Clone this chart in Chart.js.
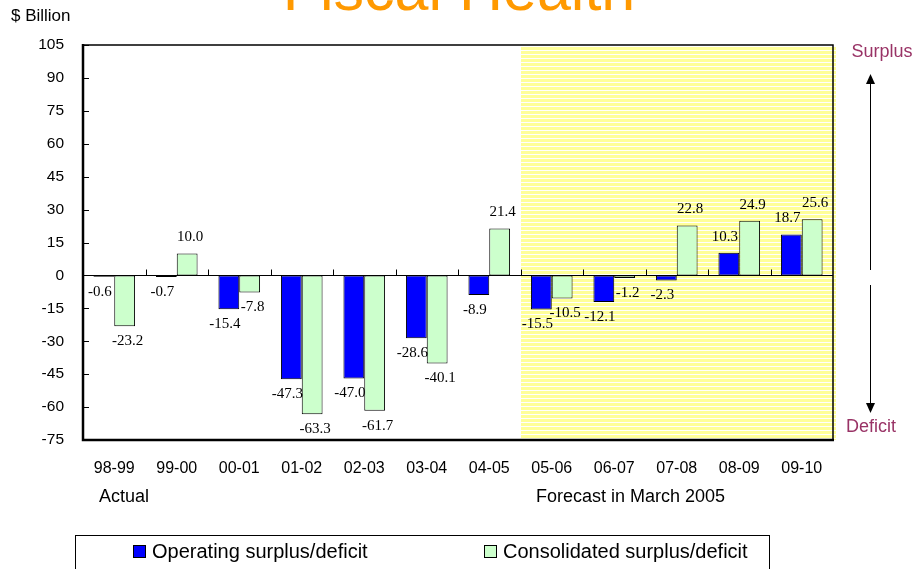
<!DOCTYPE html>
<html>
<head>
<meta charset="utf-8">
<script src="https://cdn.jsdelivr.net/npm/chart.js@4.4.1/dist/chart.umd.min.js"></script>
<style>
  body { margin: 0; background: #fff; }
  #wrap { width: 916px; height: 569px; position: relative; }
</style>
</head>
<body>
<div id="wrap"><canvas id="fiscalChart"></canvas></div>
<script>
// Fiscal years and periods
const years = ['98-99', '99-00', '00-01', '01-02', '02-03', '03-04', '04-05', '05-06', '06-07', '07-08', '08-09', '09-10'];
const firstForecast = 7; // index of 05-06

// $ Billion
const operating = [-0.6, -0.7, -15.4, -47.3, -47.0, -28.6, -8.9, -15.5, -12.1, -2.3, 10.3, 18.7];
const consolidated = [-23.2, 10.0, -7.8, -63.3, -61.7, -40.1, 21.4, -10.5, -1.2, 22.8, 24.9, 25.6];

const yMin = -75;
const yMax = 105;
const yStep = 15;

const sans = "'Liberation Sans', Arial, sans-serif";
const serif = "'Liberation Serif', 'Times New Roman', serif";

// Yellow striped forecast area
const forecastBg = {
  id: 'forecastBg',
  beforeDatasetsDraw(chart) {
    const { ctx, chartArea, scales: { x } } = chart;
    const left = Math.round((x.getPixelForValue(firstForecast - 1) + x.getPixelForValue(firstForecast)) / 2);
    const right = chartArea.right + 3;
    ctx.save();
    ctx.fillStyle = '#ffff99';
    ctx.fillRect(left, chartArea.top + 2, right - left, chartArea.bottom - chartArea.top - 2);
    ctx.fillStyle = '#ffffff';
    for (let y = chartArea.top + 5; y < chartArea.bottom; y += 4) {
      ctx.fillRect(left, y, right - left, 1);
    }
    ctx.restore();
  }
};

// Frame, zero line, ticks and value labels
const frameAndLabels = {
  id: 'frameAndLabels',
  afterDatasetsDraw(chart) {
    const { ctx, chartArea, scales: { x, y } } = chart;
    const { left, right, top, bottom } = chartArea;
    ctx.save();
    ctx.strokeStyle = '#000';

    // zero line with upward ticks between categories
    const y0 = Math.round(y.getPixelForValue(0)) + 0.5;
    ctx.lineWidth = 1;
    ctx.beginPath();
    ctx.moveTo(left, y0);
    ctx.lineTo(right, y0);
    for (let i = 1; i < years.length; i++) {
      const bx = Math.round((x.getPixelForValue(i - 1) + x.getPixelForValue(i)) / 2) + 0.5;
      ctx.moveTo(bx, y0);
      ctx.lineTo(bx, y0 - 6);
    }
    ctx.stroke();

    // inward ticks on left axis
    ctx.beginPath();
    for (let v = yMin; v <= yMax; v += yStep) {
      const ty = Math.round(y.getPixelForValue(v)) + 0.5;
      ctx.moveTo(left, ty);
      ctx.lineTo(left + 6, ty);
    }
    ctx.stroke();

    // top + right border
    ctx.lineWidth = 1.5;
    ctx.strokeRect(left, top, right - left, bottom - top);
    // left + bottom axis, thicker
    ctx.lineWidth = 2.5;
    ctx.beginPath();
    ctx.moveTo(left, top - 1);
    ctx.lineTo(left, bottom);
    ctx.lineTo(right + 1, bottom);
    ctx.stroke();

    // value labels
    ctx.font = '15px ' + serif;
    ctx.fillStyle = '#000';
    ctx.textAlign = 'center';
    ctx.textBaseline = 'middle';
    const shift = [-4, 3];
    chart.data.datasets.forEach((ds, di) => {
      chart.getDatasetMeta(di).data.forEach((bar, i) => {
        const v = ds.data[i];
        const ly = v < 0 ? bar.y + 15 : bar.y - 16;
        ctx.fillText(v.toFixed(1), bar.x + shift[di], ly);
      });
    });
    ctx.restore();
  }
};

// Title, unit, period notes, arrows and legend box
const decorations = {
  id: 'decorations',
  afterDraw(chart) {
    const { ctx } = chart;
    ctx.save();

    // title (cut off at top)
    ctx.fillStyle = '#ff9900';
    ctx.font = '61px ' + sans;
    ctx.textAlign = 'center';
    ctx.textBaseline = 'alphabetic';
    ctx.fillText('Fiscal Health', 459, 10);

    ctx.fillStyle = '#000';
    ctx.font = '17px ' + sans;
    ctx.textAlign = 'left';
    ctx.textBaseline = 'middle';
    ctx.fillText('$ Billion', 11, 16);

    ctx.font = '18px ' + sans;
    ctx.fillText('Actual', 99, 497);
    ctx.fillText('Forecast in March 2005', 536, 497);

    // surplus / deficit arrows
    ctx.fillStyle = '#993366';
    ctx.textAlign = 'center';
    ctx.fillText('Surplus', 882, 52);
    ctx.fillText('Deficit', 871, 427);

    ctx.strokeStyle = '#000';
    ctx.fillStyle = '#000';
    ctx.lineWidth = 1;
    ctx.beginPath();
    ctx.moveTo(870.5, 82);
    ctx.lineTo(870.5, 270);
    ctx.moveTo(870.5, 285);
    ctx.lineTo(870.5, 405);
    ctx.stroke();
    ctx.beginPath();
    ctx.moveTo(870.5, 74);
    ctx.lineTo(866, 84);
    ctx.lineTo(875, 84);
    ctx.closePath();
    ctx.fill();
    ctx.beginPath();
    ctx.moveTo(870.5, 413);
    ctx.lineTo(866, 403);
    ctx.lineTo(875, 403);
    ctx.closePath();
    ctx.fill();

    // legend box
    ctx.lineWidth = 1;
    ctx.strokeRect(75.5, 535.5, 694, 60);
    const items = [[133, 0], [484, 1]];
    ctx.font = '20px ' + sans;
    ctx.textAlign = 'left';
    items.forEach(([lx, di]) => {
      const ds = chart.data.datasets[di];
      ctx.fillStyle = ds.backgroundColor;
      ctx.fillRect(lx, 545, 13, 13);
      ctx.strokeStyle = '#000';
      ctx.strokeRect(lx + 0.5, 545.5, 12, 12);
      ctx.fillStyle = '#000';
      ctx.fillText(ds.label, lx + 19, 552);
    });
    ctx.restore();
  }
};

new Chart(document.getElementById('fiscalChart'), {
  type: 'bar',
  data: {
    labels: years,
    datasets: [{
      label: 'Operating surplus/deficit',
      data: operating,
      backgroundColor: '#0000ff',
      borderColor: '#000',
      borderWidth: 1,
      borderSkipped: false
    }, {
      label: 'Consolidated surplus/deficit',
      data: consolidated,
      backgroundColor: '#ccffcc',
      borderColor: '#000',
      borderWidth: 1,
      borderSkipped: false
    }]
  },
  options: {
    responsive: true,
    maintainAspectRatio: false,
    animation: false,
    layout: { padding: { top: 45, right: 83, left: 0, bottom: 0 } },
    datasets: { bar: { categoryPercentage: 0.666, barPercentage: 1.0 } },
    plugins: {
      legend: { display: false },
      tooltip: { enabled: false },
      title: { display: false }
    },
    scales: {
      x: {
        grid: { display: false, drawTicks: false },
        border: { display: false },
        ticks: { color: '#000', font: { family: sans, size: 16 }, padding: 19, maxRotation: 0 },
        afterFit(scale) { scale.height = 129; }
      },
      y: {
        min: yMin,
        max: yMax,
        grid: { display: false, drawTicks: false },
        border: { display: false },
        ticks: { stepSize: yStep, color: '#000', font: { family: sans, size: 15.5 }, padding: 19 },
        afterFit(scale) { scale.width = 83; }
      }
    }
  },
  plugins: [forecastBg, frameAndLabels, decorations]
});
</script>
</body>
</html>
